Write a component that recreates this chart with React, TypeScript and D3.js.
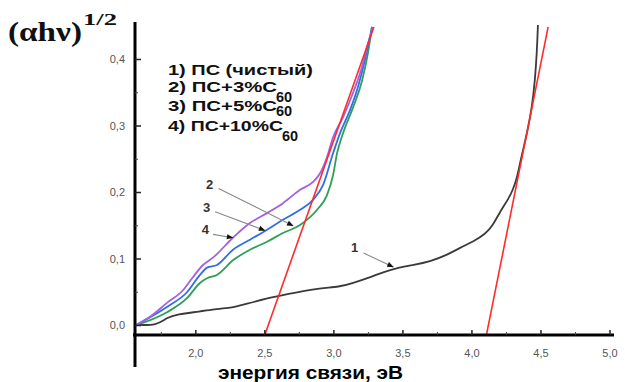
import React from "react";
import * as d3 from "d3";

type P = [number, number];

const curve1: P[] = [
  [1.56, 0.001], [1.72, 0.0], [1.79, 0.012], [1.864, 0.017], [2.03, 0.021], [2.15, 0.025], [2.269, 0.027],
  [2.342, 0.031], [2.516, 0.041], [2.66, 0.047], [2.878, 0.056], [3.044, 0.058], [3.139, 0.064],
  [3.24, 0.071], [3.356, 0.08], [3.479, 0.088], [3.573, 0.091], [3.696, 0.096], [3.819, 0.106],
  [3.914, 0.117], [4.008, 0.126], [4.095, 0.137], [4.153, 0.151], [4.203, 0.171], [4.261, 0.189],
  [4.297, 0.204], [4.326, 0.222], [4.348, 0.244], [4.37, 0.264], [4.399, 0.289], [4.435, 0.328],
  [4.457, 0.369], [4.471, 0.414], [4.478, 0.452],
];
const curve2: P[] = [
  [1.56, 0.0], [1.668, 0.013], [1.791, 0.034], [1.907, 0.053], [1.98, 0.073], [2.052, 0.091],
  [2.124, 0.102], [2.269, 0.132], [2.392, 0.154], [2.516, 0.169], [2.631, 0.184], [2.755, 0.204],
  [2.849, 0.216], [2.9, 0.229], [2.95, 0.253], [2.994, 0.283], [3.066, 0.313], [3.139, 0.35],
  [3.204, 0.389], [3.24, 0.419], [3.283, 0.449],
];
const curve3: P[] = [
  [1.56, 0.0], [1.791, 0.028], [1.936, 0.05], [2.03, 0.076], [2.081, 0.087], [2.153, 0.091],
  [2.269, 0.114], [2.392, 0.129], [2.516, 0.144], [2.631, 0.159], [2.755, 0.174], [2.849, 0.189],
  [2.921, 0.211], [2.994, 0.259], [3.044, 0.289], [3.117, 0.324], [3.175, 0.359], [3.225, 0.399],
  [3.276, 0.449],
];
const curve4: P[] = [
  [1.56, 0.0], [1.791, 0.02], [1.936, 0.041], [2.03, 0.064], [2.081, 0.071], [2.153, 0.076],
  [2.269, 0.098], [2.392, 0.114], [2.516, 0.126], [2.631, 0.139], [2.755, 0.151], [2.878, 0.174],
  [2.95, 0.196], [2.994, 0.226], [3.023, 0.259], [3.066, 0.289], [3.139, 0.328], [3.204, 0.368],
  [3.247, 0.41], [3.276, 0.449],
];
const fitLine1: P[] = [[2.5, -0.014], [3.29, 0.449]];
const fitLine2: P[] = [[4.105, -0.014], [4.552, 0.449]];

const xTicks = [2.0, 2.5, 3.0, 3.5, 4.0, 4.5, 5.0];
const xMinorTicks = [1.75, 2.25, 2.75, 3.25, 3.75, 4.25, 4.75];
const yTicks = [0.0, 0.1, 0.2, 0.3, 0.4];
const yMinorTicks = [0.05, 0.15, 0.25, 0.35];

const legendLabels = ["1) ПС (чистый)", "2) ПС+3%С", "3) ПС+5%С", "4) ПС+10%С"];
const legendSubs = ["", "60", "60", "60"];

// annotation: label, label position, arrow start, arrow end (data coords)
const annLabels = ["2", "3", "4", "1"];
const annLabelPos: P[] = [[2.10, 0.212], [2.078, 0.178], [2.07, 0.144], [3.15, 0.117]];
const annFrom: P[] = [[2.165, 0.206], [2.14, 0.171], [2.125, 0.137], [3.215, 0.109]];
const annTo: P[] = [[2.704, 0.150], [2.50, 0.143], [2.268, 0.132], [3.43, 0.088]];

export default function App() {
  const x = d3.scaleLinear().domain([1.545, 5.0]).range([133, 610]);
  const y = d3.scaleLinear().domain([0, 0.4]).range([325.5, 59.5]);
  const line = d3
    .line<P>()
    .x((d) => x(d[0]))
    .y((d) => y(d[1]))
    .curve(d3.curveMonotoneX);
  const smooth = d3
    .line<P>()
    .x((d) => x(d[0]))
    .y((d) => y(d[1]))
    .curve(d3.curveBasis);
  const straight = d3.line<P>().x((d) => x(d[0])).y((d) => y(d[1]));

  const axisY = 335;
  const axisX = 135;
  const sans = "'Liberation Sans', Arial, sans-serif";

  const series = [
    { d: curve4, c: "#2ea055", w: 1.8 },
    { d: curve3, c: "#2f6fe6", w: 1.8 },
    { d: curve2, c: "#a060e8", w: 1.8 },
  ];

  const legendBase = [75, 92, 111, 131];
  const legendSubBase = [0, 102, 116, 141];
  const legendLen = [145, 109, 109, 115];

  return (
    <svg
      width={625}
      height={382}
      style={{ position: "absolute", left: 0, top: 0, background: "#fff" }}
    >
      <defs>
        <marker id="ah" viewBox="0 0 10 10" refX="9" refY="5" markerWidth="7" markerHeight="6" orient="auto">
          <path d="M0,1 L10,5 L0,9 z" fill="#111" />
        </marker>
      </defs>

      {/* curves */}
      <path d={smooth(curve1) || ""} fill="none" stroke="#3a3a3a" strokeWidth={1.8} strokeLinejoin="round" />
      {series.map((s, i) => (
        <path key={i} d={line(s.d) || ""} fill="none" stroke={s.c} strokeWidth={s.w} strokeLinejoin="round" />
      ))}
      {[fitLine1, fitLine2].map((f, i) => (
        <path key={"f" + i} d={straight(f) || ""} fill="none" stroke="#ff2a2a" strokeWidth={1.6} />
      ))}

      {/* axes */}
      <line x1={axisX} y1={22} x2={axisX} y2={367} stroke="#000" strokeWidth={3} />
      <line x1={133} y1={axisY} x2={614} y2={axisY} stroke="#000" strokeWidth={3} />
      {xTicks.map((t) => (
        <g key={"xt" + t}>
          <line x1={x(t)} x2={x(t)} y1={axisY} y2={axisY - 5} stroke="#222" strokeWidth={1.5} />
          <text x={x(t)} y={357} textAnchor="middle" fontFamily={sans} fontSize={11} fill="#555">
            {t.toFixed(1).replace(".", ",")}
          </text>
        </g>
      ))}
      {xMinorTicks.map((t) => (
        <line key={"xm" + t} x1={x(t)} x2={x(t)} y1={axisY} y2={axisY - 3} stroke="#444" strokeWidth={1} />
      ))}
      {yTicks.map((t) => (
        <g key={"yt" + t}>
          <line x1={axisX} x2={axisX + 6} y1={y(t)} y2={y(t)} stroke="#222" strokeWidth={1.5} />
          <text x={125} y={y(t)} dy="0.35em" textAnchor="end" fontFamily={sans} fontSize={11} fill="#555">
            {t.toFixed(1).replace(".", ",")}
          </text>
        </g>
      ))}
      {yMinorTicks.map((t) => (
        <line key={"ym" + t} x1={axisX} x2={axisX + 3} y1={y(t)} y2={y(t)} stroke="#444" strokeWidth={1} />
      ))}

      {/* title */}
      <text x={8} y={41} fontFamily="'Liberation Serif', 'Times New Roman', serif" fontWeight="bold" fontSize={28} fill="#111" textLength={74} lengthAdjust="spacingAndGlyphs">
        (αhν)
      </text>
      <text x={83} y={25} fontFamily="'Liberation Serif', 'Times New Roman', serif" fontWeight="bold" fontSize={16} fill="#111" textLength={34} lengthAdjust="spacingAndGlyphs">
        1/2
      </text>

      {/* x axis label */}
      <text x={218} y={379} fontFamily={sans} fontWeight="bold" fontSize={18} fill="#000" textLength={185} lengthAdjust="spacingAndGlyphs">
        энергия связи, эВ
      </text>

      {/* legend */}
      {legendLabels.map((l, i) => (
        <g key={"lg" + i}>
          <text x={168} y={legendBase[i]} fontFamily={sans} fontWeight="bold" fontSize={14.5} fill="#111" textLength={legendLen[i]} lengthAdjust="spacingAndGlyphs">
            {l}
          </text>
          {legendSubs[i] && (
            <text x={168 + legendLen[i] - 1} y={legendSubBase[i]} fontFamily={sans} fontWeight="bold" fontSize={14.5} fill="#111">
              {legendSubs[i]}
            </text>
          )}
        </g>
      ))}

      {/* annotations */}
      {annLabels.map((l, i) => (
        <g key={"an" + i}>
          <line
            x1={x(annFrom[i][0])}
            y1={y(annFrom[i][1])}
            x2={x(annTo[i][0])}
            y2={y(annTo[i][1])}
            stroke="#8a8a8a"
            strokeWidth={1.1}
            markerEnd="url(#ah)"
          />
          <text x={x(annLabelPos[i][0])} y={y(annLabelPos[i][1])} dy="0.35em" textAnchor="middle" fontFamily={sans} fontWeight="bold" fontSize={13} fill="#333">
            {l}
          </text>
        </g>
      ))}
    </svg>
  );
}
